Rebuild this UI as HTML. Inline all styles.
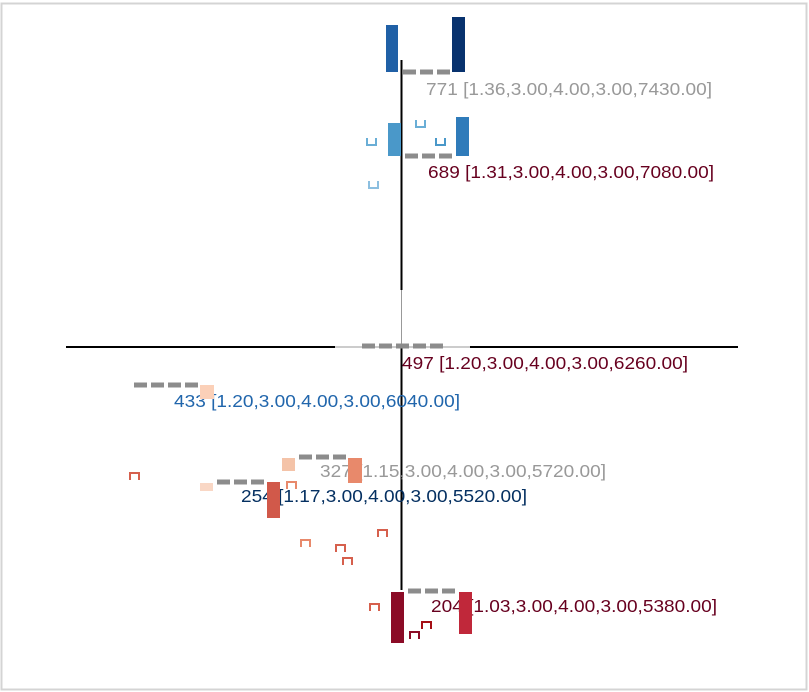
<!DOCTYPE html>
<html><head><meta charset="utf-8"><style>
html,body{margin:0;padding:0;background:#fff;}
svg{display:block;font-family:"Liberation Sans",sans-serif;}
</style></head><body>
<svg id="chart" width="809" height="692" viewBox="0 0 809 692">
<rect x="1.5" y="3.5" width="805" height="686" fill="#fff" stroke="#d4d4d4" stroke-width="2"/>
<g id="axes">
<line x1="401.5" y1="60" x2="401.5" y2="290" stroke="#000" stroke-width="2"/>
<line x1="401.5" y1="290" x2="401.5" y2="346" stroke="#999" stroke-width="1"/>
<line x1="401.5" y1="348" x2="401.5" y2="590" stroke="#000" stroke-width="2"/>
<line x1="66" y1="347" x2="335" y2="347" stroke="#000" stroke-width="2"/>
<line x1="335" y1="347" x2="470" y2="347" stroke="#999" stroke-width="1"/>
<line x1="470" y1="347" x2="738" y2="347" stroke="#000" stroke-width="2"/>
</g>
<g id="marks"></g>
</svg>
<script>
// node data
const nodeIds = [771, 689, 497, 433, 327, 254, 204];
const nodeStats = ["1.36,3.00,4.00,3.00,7430.00","1.31,3.00,4.00,3.00,7080.00","1.20,3.00,4.00,3.00,6260.00","1.20,3.00,4.00,3.00,6040.00","1.15,3.00,4.00,3.00,5720.00","1.17,3.00,4.00,3.00,5520.00","1.03,3.00,4.00,3.00,5380.00"];
const textColors = ["#999999","#67001f","#67001f","#2166ac","#999999","#053061","#67001f"];
// layout (not data)
const anchorX = [403, 405, 362, 134, 299, 217, 408];
const anchorY = [72, 156, 346, 385, 457, 482, 591];
const dashCount = [3, 3, 5, 4, 3, 3, 3];
const textX = [426, 428, 402, 174, 320, 241, 431];
const textY = [95, 178, 369, 407, 477, 502, 612];
// bars: [x, y, w, h, color]
const bars = [
 [386,25,12,47,"#2060a6"],[452,17,13,55,"#08326e"],
 [388,123,13,33,"#4a98c9"],[456,117,13,39,"#2f7bba"],
 [200,385,14,14,"#fbd0b8"],
 [282,458,13,13,"#f4c3a8"],[348,458,14,25,"#e8896b"],
 [200,483,13,8,"#f9d7c5"],[267,482,13,36,"#d1594a"],
 [391,592,13,51,"#8b0b26"],[459,592,13,42,"#c0283a"]
];
// brackets: [x, y, open-up?, color]
const brackets = [
 [367,138,1,"#6aaed6"],[416,120,1,"#6aaed6"],[436,138,1,"#4a98c9"],[369,181,1,"#8cbfe0"],
 [130,473,0,"#d6604d"],[287,482,0,"#e8896b"],[378,530,0,"#d6604d"],[301,540,0,"#e8896b"],
 [336,545,0,"#d6604d"],[343,558,0,"#d6604d"],[370,604,0,"#d6604d"],[422,622,0,"#a50f15"],[410,632,0,"#8b0b26"]
];
const NS="http://www.w3.org/2000/svg";
const g=document.getElementById("marks");
function mk(t,a){const e=document.createElementNS(NS,t);for(const k in a)e.setAttribute(k,a[k]);g.appendChild(e);return e;}
nodeIds.forEach((id,i)=>{
 const t=mk("text",{x:textX[i],y:textY[i],fill:textColors[i],"font-size":"17.5",textLength:"286",lengthAdjust:"spacingAndGlyphs"});
 t.textContent=id+" ["+nodeStats[i]+"]";
 
 
 for(let k=0;k<dashCount[i];k++){
  const e=mk("rect",{x:anchorX[i]+k*17,y:anchorY[i]-2.5,width:13,height:5,fill:"#8c8c8c"});
  
  
 }
});
bars.forEach(b=>{
 const e=mk("rect",{x:b[0],y:b[1],width:b[2],height:b[3],fill:b[4]});
 
 
});
brackets.forEach(b=>{
 const x=b[0],y=b[1],w=9,h=7;
 const d=b[2]?`M${x},${y} L${x},${y+h} L${x+w},${y+h} L${x+w},${y}`:`M${x},${y+h} L${x},${y} L${x+w},${y} L${x+w},${y+h}`;
 const e=mk("path",{d:d,fill:"none",stroke:b[3],"stroke-width":2});
 
 
});
</script>
</body></html>
